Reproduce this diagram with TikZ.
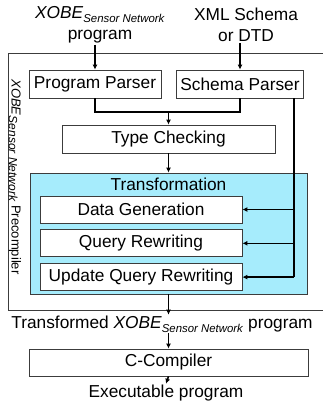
\documentclass[tikz,border=0pt]{standalone}
\usepackage{fontspec}
\setmainfont{Liberation Sans}
\usepackage{tikz}
\usetikzlibrary{arrows.meta,positioning}
\definecolor{StageCyan}{RGB}{166,236,252}
\definecolor{EdgeGray}{RGB}{60,60,60}
\newcommand{\xobe}[1][11.4]{\textit{XOBE}\raisebox{-0.4ex}{\fontsize{#1}{#1}\selectfont\textit{Sensor Network}}}
\tikzset{
  stage/.style={draw=EdgeGray,line width=0.8pt,fill=white,inner sep=0pt,
    minimum height=28pt,font=\fontsize{17.3}{21}\selectfont},
  caption/.style={inner sep=1pt,align=center,font=\fontsize{17.3}{21}\selectfont},
  flow/.style={-{Latex[length=5pt,width=5pt]},line width=1.6pt,draw=black}
}

\begin{document}
\begin{tikzpicture}[x=1pt,y=-1pt]
  \useasboundingbox (0,0) rectangle (322,404);
  % precompiler frame, open to the right
  \node[draw=EdgeGray,line width=0.8pt,anchor=north west,minimum width=340pt,
    minimum height=257pt,inner sep=0pt] (precomp) at (8,53) {};
  \node[rotate=-90,inner sep=0pt] (side) at (15,177)
    {\fontsize{13}{15}\selectfont\xobe[12] Precompiler};
  % inputs
  \node[caption] (prog) at (100,25) {\xobe\\program};
  \node[caption] (schema) at (246,25) {XML Schema\\or DTD};
  \node[stage,minimum width=132pt] (pparser) at (95,84) {Program Parser};
  \node[stage,minimum width=127pt] (sparser) at (240,84) {Schema Parser};
  \node[stage,minimum width=213pt] (typecheck) at (168.5,139) {Type Checking};
  % transformation block
  \node[draw=EdgeGray,line width=0.8pt,fill=StageCyan,minimum width=277pt,
    minimum height=121pt,inner sep=0pt] (trans) at (168.5,233.5) {};
  \node[caption] (transtitle) at (168.5,184) {Transformation};
  \node[stage,minimum width=202pt,minimum height=27pt] (datagen) at (141,209.5) {Data Generation};
  \node[stage,minimum width=202pt,minimum height=27pt,below=6pt of datagen] (queryrw) {Query Rewriting};
  \node[stage,minimum width=202pt,minimum height=27pt,below=6pt of queryrw] (updaterw) {Update Query Rewriting};
  % output side
  \node[caption] (transd) at (162,324) {Transformed \xobe\ program};
  \node[stage,minimum width=279pt,minimum height=27pt] (ccomp) at (168.5,362.5) {C-Compiler};
  \node[caption] (exec) at (166,393) {Executable program};
  \coordinate (join) at (168.5,112);
  \coordinate (bus) at (294,98);
  \draw[flow] (pparser.north |- prog.south) -- (pparser.north);
  \draw[flow] (sparser.north |- schema.south) -- (sparser.north);
  \draw[line width=1.6pt] (pparser.south) |- (join) -| (sparser.south);
  \draw[flow] (join) -- (typecheck.north);
  \draw[flow] (typecheck.south) -- (trans.north);
  \draw[line width=1.6pt] (bus) -- (bus |- updaterw.east);
  \draw[flow] (bus |- datagen.east) -- (datagen.east);
  \draw[flow] (bus |- queryrw.east) -- (queryrw.east);
  \draw[flow] (bus |- updaterw.east) -- (updaterw.east);
  \draw[flow] (trans.south) -- (trans.south |- transd.north);
  \draw[flow] (ccomp.north |- transd.south) -- (ccomp.north);
  \draw[flow] (ccomp.south) -- (exec.north);
\end{tikzpicture}
\end{document}
